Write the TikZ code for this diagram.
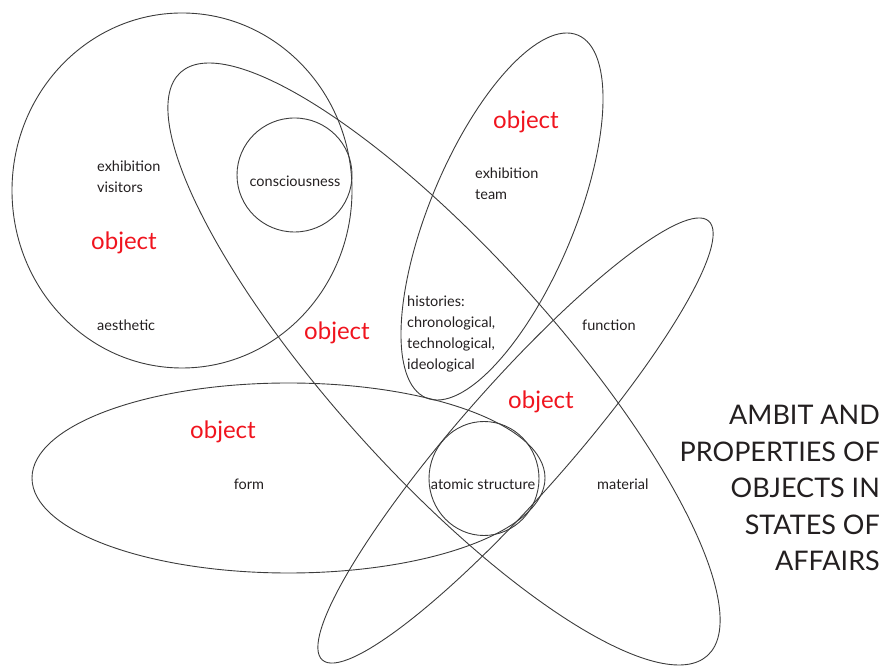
\documentclass[tikz,border=0pt]{standalone}
\usepackage{fontspec}
\setmainfont{Lato}
\usepackage{xcolor}
\usepackage{tikz}
\usetikzlibrary{positioning}
\definecolor{AmbitInk}{HTML}{231F20}
\definecolor{AmbitLine}{HTML}{3C3C3C}
\definecolor{AmbitRed}{HTML}{F0141E}

\begin{document}
\begin{tikzpicture}[
  x=1pt,
  y=1pt,
  ring/.style={draw=AmbitLine, line width=0.9pt},
  lbl/.style={font=\fontsize{14.5}{21}\selectfont, text=AmbitInk, inner sep=0pt, align=left},
  obj/.style={font=\fontsize{24}{28}\selectfont, text=AmbitRed, inner sep=0pt},
  ttl/.style={font=\fontsize{27}{36.5}\selectfont, text=AmbitInk, inner sep=0pt, align=right}
]
\useasboundingbox (0,0) rectangle (885,666);

% centres of the sets
\coordinate (visc) at (182,475.5);
\coordinate (consc) at (294.5,491);
\coordinate (longc) at (444,302);
\coordinate (teamc) at (502,449.5);
\coordinate (funcc) at (515.5,225.5);
\coordinate (formc) at (288.5,188);
\coordinate (atomc) at (484,187.5);

\draw[ring] (visc) ellipse [x radius=170, y radius=177.5];
\draw[ring] (consc) ellipse [x radius=57.5, y radius=57];
\draw[ring, rotate around={-47.9:(longc)}] (longc) ellipse [x radius=393, y radius=111];
\draw[ring, rotate around={67.3:(teamc)}] (teamc) ellipse [x radius=196.6, y radius=72.3];
\draw[ring, rotate around={48.65:(funcc)}] (funcc) ellipse [x radius=292.4, y radius=55.5];
\draw[ring] (formc) ellipse [x radius=256.5, y radius=95];
\draw[ring] (atomc) ellipse [x radius=55, y radius=57];

% labels
\node[lbl, anchor=west] (visitors) at (97,489.5) {exhibition\\visitors};
\node[obj] (objvis) at (124,423) {object};
\node[lbl, anchor=west] (aesthetic) at (97,341) {aesthetic};
\node[lbl] (conscious) at (295,485) {consciousness};
\node[obj] (objlong) at (337,333) {object};
\node[obj] (objteam) at (526,544) {object};
\node[lbl, anchor=west] (team) at (475,482.5) {exhibition\\team};
\node[lbl, anchor=west] (histories) at (407,332.5) {histories:\\chronological,\\technological,\\ideological};
\node[lbl, anchor=west] (function) at (582,341) {function};
\node[obj] (objfunc) at (541,264) {object};
\node[obj] (objform) at (223,234) {object};
\node[lbl] (form) at (249,182) {form};
\node[lbl] (atomic) at (483,182) {atomic structure};
\node[lbl, anchor=west] (material) at (597,182) {material};

\node[ttl, anchor=east] (title) at (880,178) {AMBIT AND\\PROPERTIES OF\\OBJECTS IN\\STATES OF\\AFFAIRS};
\end{tikzpicture}
\end{document}
